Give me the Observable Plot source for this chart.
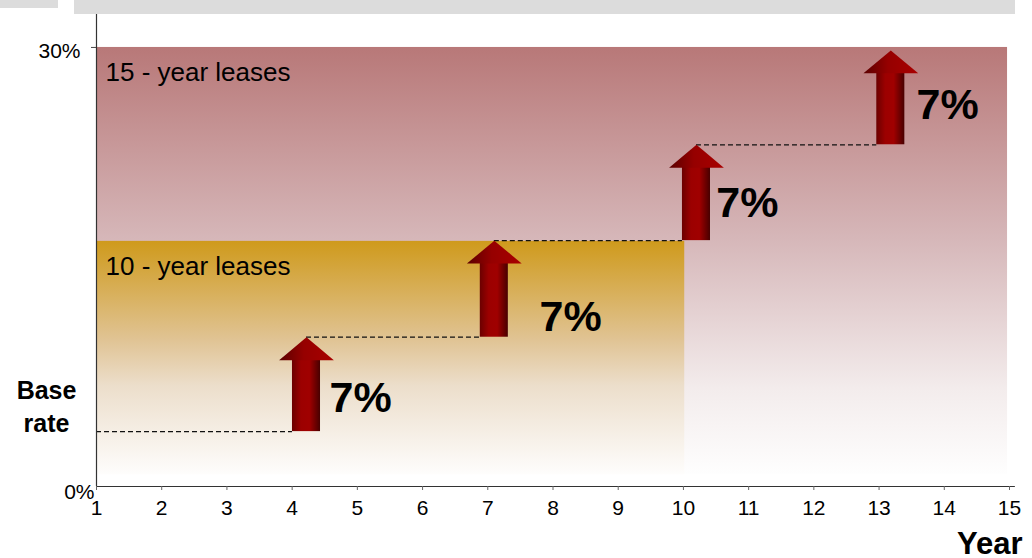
<!DOCTYPE html>
<html><head><meta charset="utf-8">
<script src="https://cdn.jsdelivr.net/npm/d3@7"></script>
<script src="https://cdn.jsdelivr.net/npm/@observablehq/plot@0.6"></script>
<style>
body{margin:0;background:#fff;}
#wrap{position:relative;width:1032px;height:558px;font-family:"Liberation Sans",Arial,sans-serif;overflow:hidden;}
#wrap svg{position:absolute;left:0;top:0;}
.bar{position:absolute;background:#dcdcdc;z-index:2;}
</style></head><body>
<div id="wrap"></div>
<script>
// ---- data ----
const years = [1,2,3,4,5,6,7,8,9,10,11,12,13,14,15];
const yTicks = [0, 30];
const yTickLabels = ["0%", "30%"];
const leaseNames = ["15 - year leases", "10 - year leases"];
const leaseEnd = [14.97, 10.02];
const leaseTop = [30, 16.75];
const leaseBottom = 0.8;
const levels = [3.75, 10.2, 16.8, 23.35, 29.8];
const arrowYears = [4.22, 7.1, 10.2, 13.18];
const stepLabels = ["7%", "7%", "7%", "7%"];
const labelX = [5.05, 8.27, 10.98, 14.05];
const labelY = [6.0, 11.55, 19.35, 26.05];
const baseLabel = "Base\nrate";
const baseLabelY = 5.6;
const xTitle = "Year";

// ---- derived ----
const HW = 0.215, HHW = 0.42, HH = 1.57;
const leases = leaseNames.map((n, i) => ({name: n, x1: 1, x2: leaseEnd[i], y1: leaseBottom, y2: leaseTop[i]}));
const shafts = arrowYears.map((c, i) => ({x1: c - HW, x2: c + HW, y1: levels[i], y2: levels[i + 1] - HH + 0.05}));
const heads = arrowYears.flatMap((c, i) => {
  const t = levels[i + 1], b = t - HH;
  return [{id: i, x: c - HHW, y: b}, {id: i, x: c, y: t}, {id: i, x: c + HHW, y: b}];
});
const steps = levels.slice(0, arrowYears.length).map((v, i) => ({x1: i === 0 ? 1 : arrowYears[i - 1], x2: arrowYears[i] - HW, y: v}));
const labels = stepLabels.map((t, i) => ({t, x: labelX[i], y: labelY[i]}));
const yl = yTicks.map((v, i) => ({v, t: yTickLabels[i]}));

const svg = Plot.plot({
  width: 1032, height: 558,
  marginLeft: 96, marginRight: 23, marginTop: 13, marginBottom: 72,
  x: {domain: [1, 15]},
  y: {domain: [0, 32.32]},
  style: {fontFamily: "Liberation Sans, Arial, sans-serif", fontSize: "21px", background: "transparent", color: "#000", overflow: "visible"},
  marks: [
    Plot.rect([leases[0]], {x1: "x1", x2: "x2", y1: "y1", y2: "y2", fill: "url(#g15)"}),
    Plot.rect([leases[1]], {x1: "x1", x2: "x2", y1: "y1", y2: "y2", fill: "url(#g10)"}),
    Plot.text(leases, {x: "x1", y: "y2", text: "name", textAnchor: "start", lineAnchor: "top", dx: 9, dy: 15, fontSize: 26, fill: "#000"}),
    Plot.ruleY(steps, {x1: "x1", x2: "x2", y: "y", stroke: "#111", strokeWidth: 1.2, strokeDasharray: "5,3"}),
    Plot.rect(shafts, {x1: "x1", x2: "x2", y1: "y1", y2: "y2", fill: "url(#garrow)"}),
    Plot.line(heads, {x: "x", y: "y", z: "id", fill: "url(#ghead)", stroke: "none", curve: "linear"}),
    Plot.text(labels, {x: "x", y: "y", text: "t", fontSize: 43, fontWeight: "bold", fill: "#000", lineAnchor: "middle"}),
    Plot.ruleX([1], {y1: 0, y2: 32.32, stroke: "#333", strokeWidth: 1.2}),
    Plot.ruleY([0], {x1: 1, x2: 15.09, stroke: "#333", strokeWidth: 1.2}),
    Plot.axisX({ticks: years, tickSize: 4, tickPadding: 10, tickFormat: d => String(d), label: null, fontSize: 21, stroke: "#666", fill: "#000"}),
    Plot.axisY({ticks: [30], tickSize: 5, tickFormat: () => "", label: null, stroke: "#444"}),
    Plot.text([yl[1]], {x: () => 1, y: "v", text: "t", textAnchor: "end", dx: -16, dy: 4, fontSize: 21}),
    Plot.text([yl[0]], {x: () => 1, y: "v", text: "t", textAnchor: "end", dx: -2, dy: 6, fontSize: 21}),
    Plot.text([baseLabel], {x: () => 1, y: () => baseLabelY, text: d => d, dx: -50, fontSize: 25, fontWeight: "bold", lineHeight: 1.32, textAnchor: "middle", lineAnchor: "middle"}),
    Plot.text([xTitle], {x: () => 15, y: () => 0, text: d => d, textAnchor: "end", lineAnchor: "top", dx: 13, dy: 45, fontSize: 31, fontWeight: "bold"})
  ]
});

const defs = d3.select(svg).insert("defs", ":first-child");
function grad(id, vertical, stops) {
  const g = defs.append("linearGradient").attr("id", id)
    .attr("x1", 0).attr("y1", 0).attr("x2", vertical ? 0 : 1).attr("y2", vertical ? 1 : 0);
  stops.forEach(([o, c]) => g.append("stop").attr("offset", o).attr("stop-color", c));
}
grad("g15", true, [[0, "#b87878"], [0.45, "#d6b7b9"], [0.8, "#f3ecec"], [1, "#fefefe"]]);
grad("g10", true, [[0, "#cf9a1c"], [0.42, "#e0c393"], [0.62, "#ecdecb"], [1, "#fefdfc"]]);
grad("garrow", false, [[0, "#6b0000"], [0.32, "#9c0000"], [0.62, "#a00000"], [1, "#480000"]]);
grad("ghead", false, [[0, "#5a0000"], [0.45, "#960000"], [1, "#a80000"]]);

const wrap = document.getElementById("wrap");
wrap.appendChild(svg);
wrap.insertAdjacentHTML("beforeend", '<div class="bar" style="left:0;top:0;width:58px;height:8px"></div><div class="bar" style="left:74px;top:0;width:941px;height:14px"></div>');
</script>
</body></html>
